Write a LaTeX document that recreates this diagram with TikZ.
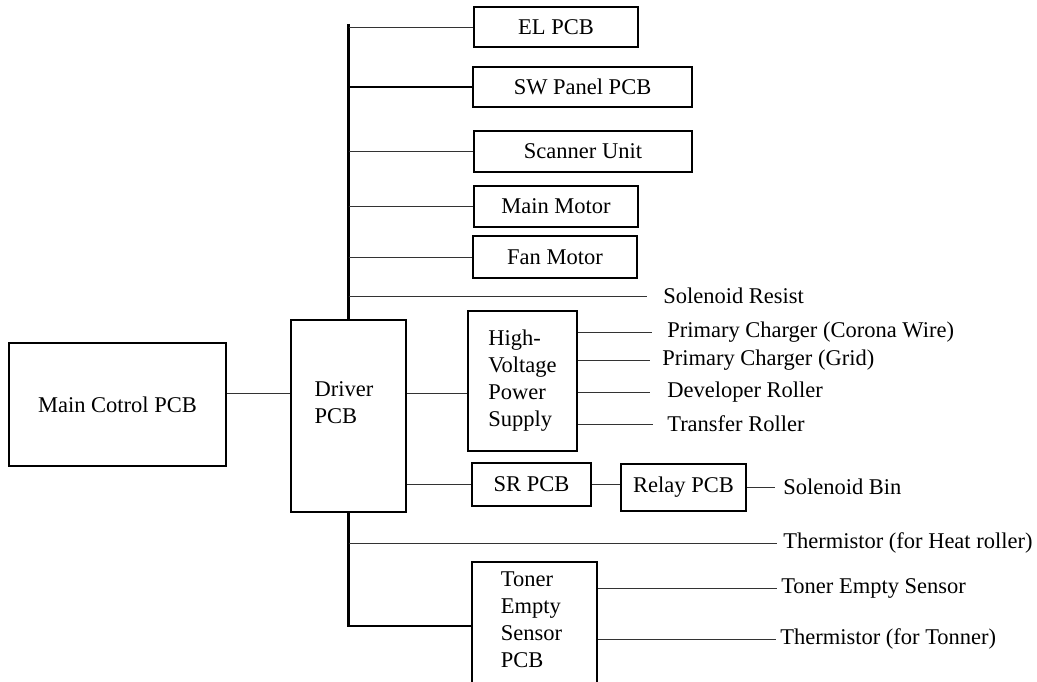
\documentclass[tikz,border=0pt]{standalone}
\usepackage{fontspec}
\setmainfont{Liberation Serif}
\usetikzlibrary{positioning,calc}

\begin{document}
\begin{tikzpicture}[x=0.025cm,y=-0.025cm,
  every node/.style={font=\fontsize{16}{19.2}\selectfont},
  box/.style={draw,line width=1.4pt,inner sep=0pt},
  tag/.style={anchor=west,inner sep=0pt},
  wire/.style={line width=0.7pt,black!80},
  bus/.style={line width=1.5pt}]
\clip (0,0) rectangle (1037,682);
% boxes
\node[box,minimum width=5.425cm,minimum height=3.075cm] (main) at (117.5,404.5) {Main Cotrol PCB};
\node[box,minimum width=2.875cm,minimum height=4.8cm] (drv) at (348.5,416) {};
\node[align=left] (drvtxt) at (344,403) {Driver\\PCB};
\node[box,minimum width=4.1cm,minimum height=1cm] (el) at (556,27) {EL PCB};
\node[box,minimum width=5.475cm,minimum height=1cm] (sw) at (582.5,87) {SW Panel PCB};
\node[box,minimum width=5.45cm,minimum height=1.025cm] (scan) at (583,151.5) {Scanner Unit};
\node[box,minimum width=4.1cm,minimum height=1.025cm] (mm) at (556,206.5) {Main Motor};
\node[box,minimum width=4.1cm,minimum height=1.05cm] (fan) at (555,257) {Fan Motor};
\node[box,align=left,minimum width=2.725cm,minimum height=3.5cm] (hv) at (522.5,381) {High-\\Voltage\\Power\\Supply};
\node[box,minimum width=2.975cm,minimum height=1.075cm] (sr) at (531.5,484.5) {SR PCB};
\node[box,minimum width=3.125cm,minimum height=1.175cm] (relay) at (683.5,487.5) {Relay PCB};
\node[box,minimum width=3.125cm,minimum height=3.45cm] (tnr) at (534.5,631) {};
\node[align=left] (tnrtxt) at (531.5,620) {Toner\\Empty\\Sensor\\PCB};
% end labels
\node[tag] (sres) at (663,296) {Solenoid Resist};
\node[tag] (cor) at (667,332) {Primary Charger (Corona Wire)};
\node[tag] (grid) at (662,360) {Primary Charger (Grid)};
\node[tag] (dev) at (667,392) {Developer Roller};
\node[tag] (trans) at (667,424) {Transfer Roller};
\node[tag] (sbin) at (783,487) {Solenoid Bin};
\node[tag] (theat) at (783,543) {Thermistor (for Heat roller)};
\node[tag] (tes) at (781,588) {Toner Empty Sensor};
\node[tag] (ttn) at (780,639) {Thermistor (for Tonner)};
% upper bus
\coordinate (bustop) at (348.5,24);
\draw[bus] (bustop) -- (bustop |- drv.north);
\foreach \b in {el,scan,mm,fan}
  \draw[wire] (bustop |- \b.west) -- (\b.west);
\draw[bus] (bustop |- sw.west) -- (sw.west);
\draw[wire,shorten >=0.4cm] (bustop |- sres) -- (sres);
% driver links
\coordinate (lnk) at (0,393);
\draw[wire] (main.east |- lnk) -- (drv.west |- lnk);
\draw[wire] (drv.east |- lnk) -- (hv.west |- lnk);
\foreach \t/\g in {cor/0.375cm,grid/0.3cm,dev/0.425cm,trans/0.35cm}
  \draw[wire,shorten >=\g] (hv.east |- \t) -- (\t);
\draw[wire] (drv.east |- sr.west) -- (sr.west);
\draw[wire] (sr.east) -- (sr.east -| relay.west);
\draw[wire,shorten >=0.2cm] (relay.east |- sbin) -- (sbin);
% lower bus
\coordinate (busbot) at (348.5,626);
\draw[bus] (drv.south) -- (busbot) -- (busbot -| tnr.west);
\draw[wire,shorten >=0.15cm] (busbot |- theat) -- (theat);
\foreach \t in {tes,ttn}
  \draw[wire,shorten >=0.1cm] (tnr.east |- \t) -- (\t);
\end{tikzpicture}
\end{document}
